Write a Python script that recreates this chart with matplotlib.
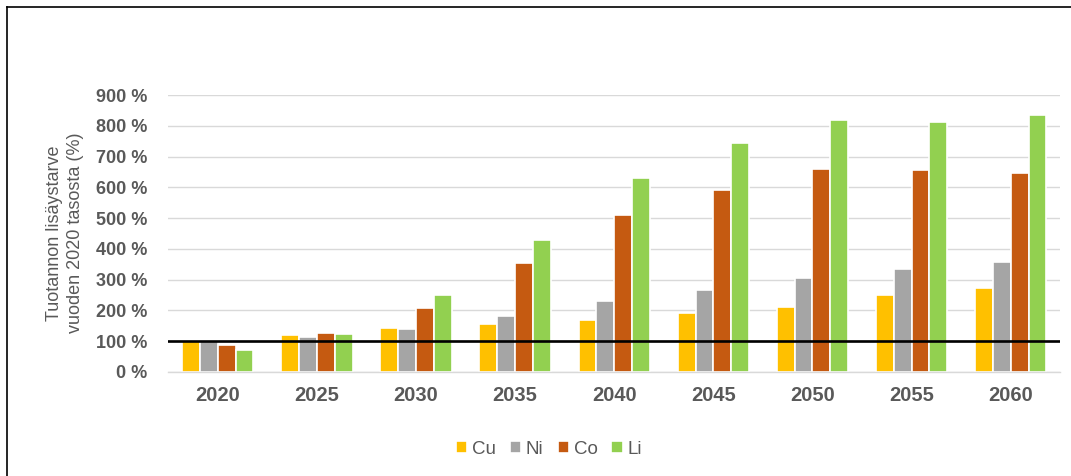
import numpy as np
import matplotlib
matplotlib.use("Agg")
import matplotlib.pyplot as plt
from matplotlib.lines import Line2D
from matplotlib.ticker import FuncFormatter

plt.rcParams["font.family"] = ["Liberation Sans", "DejaVu Sans"]

# ── Data ──────────────────────────────────────────────────────────────────────
years = ["2020", "2025", "2030", "2035", "2040", "2045", "2050", "2055", "2060"]
cu = [100, 119, 141, 155, 169, 192, 211, 249, 273]
ni = [100, 113, 138, 180, 230, 265, 306, 333, 357]
co = [86, 126, 208, 354, 510, 592, 660, 657, 646]
li = [71, 123, 250, 428, 631, 746, 820, 812, 834]
metals = ["Cu", "Ni", "Co", "Li"]
colors = ["#FFC000", "#A5A5A5", "#C55A11", "#92D050"]
baseline = 100

TXT = "#595959"

fig = plt.figure(figsize=(10.71, 4.76), dpi=100)
ax = fig.add_axes([0.157, 0.219, 0.833, 0.581])

x = np.arange(len(years))
slot = 0.18
for i, (vals, c, name) in enumerate(zip([cu, ni, co, li], colors, metals)):
    ax.bar(x + (i - 1.5) * slot, vals, width=slot, color=c,
           edgecolor="white", linewidth=1.2, label=name, zorder=2)

ax.axhline(baseline, color="black", lw=1.9, zorder=3)

ax.set_xlim(-0.5, len(years) - 0.5)
ax.set_ylim(0, 900)
ax.set_yticks(np.arange(0, 901, 100))
ax.yaxis.set_major_formatter(FuncFormatter(lambda v, _: f"{v:.0f} %"))
ax.set_xticks(x)
ax.set_xticklabels(years)
ax.grid(axis="y", color="#D9D9D9", lw=1.0, zorder=0)
ax.set_axisbelow(True)
for side in ["top", "right", "left"]:
    ax.spines[side].set_visible(False)
ax.spines["bottom"].set_color("#D9D9D9")
ax.spines["bottom"].set_linewidth(1.0)
ax.tick_params(length=0, colors=TXT)
ax.tick_params(axis="y", pad=15, labelsize=13)
ax.tick_params(axis="x", pad=10, labelsize=14.5)
for lbl in ax.get_xticklabels() + ax.get_yticklabels():
    lbl.set_fontweight("bold")
    lbl.set_color(TXT)

fig.text(0.061, 0.51, "Tuotannon lisäystarve\nvuoden 2020 tasosta (%)",
         rotation=90, ha="center", va="center", fontsize=13, color=TXT,
         linespacing=1.3)

fig.legend(loc="center", bbox_to_anchor=(549 / 1071, 1 - 449 / 476), ncol=4,
           frameon=False, fontsize=13.5, handlelength=0.6, handleheight=0.6,
           handletextpad=0.25, columnspacing=0.75, labelcolor=TXT)

# outer frame (top and left edges)
fig.add_artist(Line2D([7 / 1071, 1.0], [1 - 7 / 476] * 2, color="black",
                      lw=1.2, transform=fig.transFigure))
fig.add_artist(Line2D([7 / 1071] * 2, [0, 1 - 7 / 476], color="black",
                      lw=1.2, transform=fig.transFigure))

fig.savefig("out.png", dpi=100)
